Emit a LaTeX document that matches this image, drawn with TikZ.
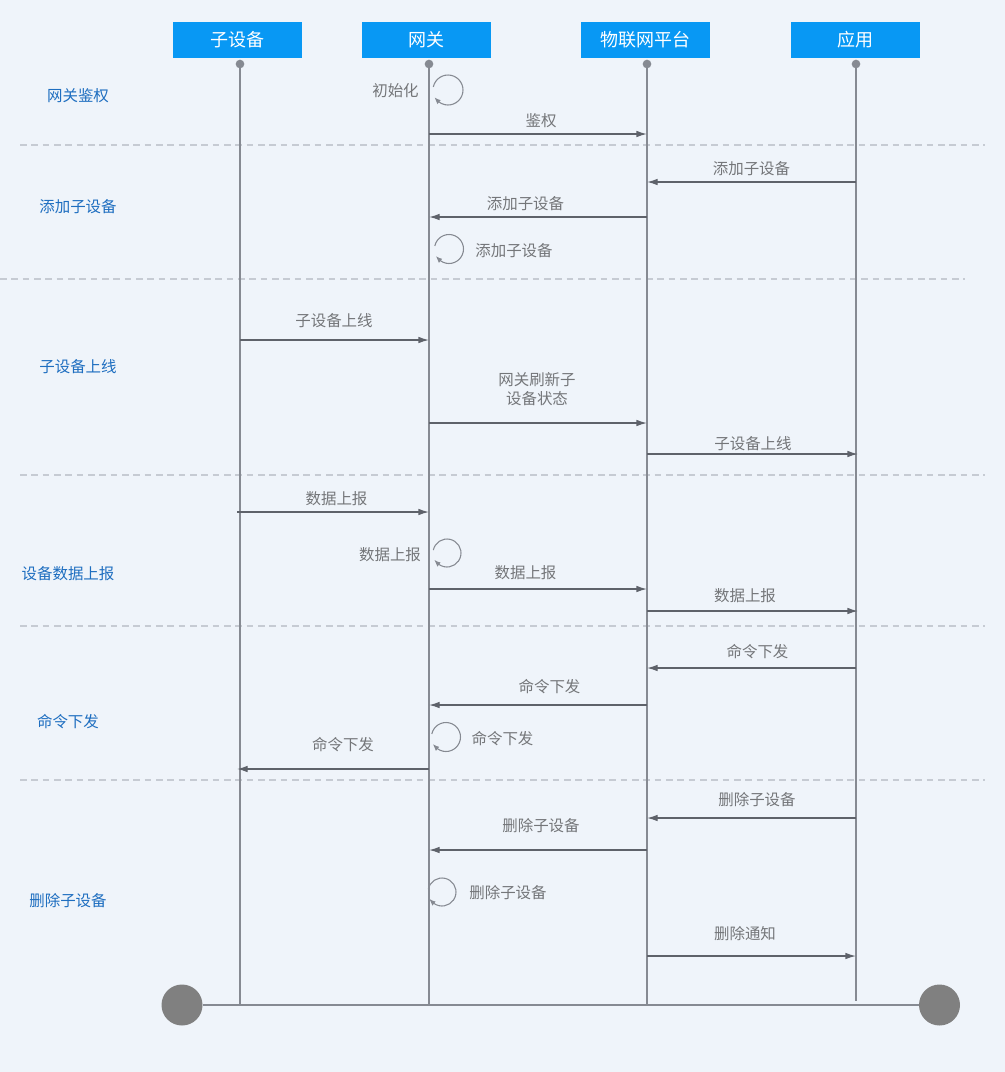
\documentclass[tikz,border=0pt]{standalone}
\usepackage{fontspec}
\setmainfont{Noto Sans CJK SC}
\usetikzlibrary{arrows.meta,calc,bending}
\definecolor{bgc}{HTML}{EFF4FA}
\definecolor{headc}{HTML}{0898F4}
\definecolor{lifec}{HTML}{868A92}
\definecolor{msgc}{HTML}{5E626A}
\definecolor{txtc}{HTML}{747679}
\definecolor{secc}{HTML}{1E6EC0}
\definecolor{dashc}{HTML}{C6CBD3}
\definecolor{endcc}{HTML}{808080}
\newcommand\sqmsg[7]{%
  \coordinate (#1a) at (#2,#4);
  \coordinate (#1b) at (#3,#4);
  \draw[msgarrow] (#1a) -- (#1b);
  \node[msglabel] (#1l) at (#5,#6) {#7};}
\newcommand\sqloop[7]{%
  \coordinate (#1c) at (#2,#3);
  \draw[loopline] ($(#1c)+(-168:#4)$) arc[start angle=-168,end angle=152,radius=#4];
  \node[msglabel] (#1l) at (#5,#6) {#7};}
\begin{document}
\begin{tikzpicture}[x=0.75pt,y=-0.75pt,
  head/.style={fill=headc,text=white,minimum width=96.75pt,minimum height=27pt,inner sep=0pt,font=\fontsize{13.5}{15}\selectfont},
  lifedot/.style={circle,fill=lifec,minimum size=6.5pt,inner sep=0pt},
  life/.style={draw=lifec,line width=1.5pt},
  msgarrow/.style={draw=msgc,line width=1pt,-{Latex[length=8pt,width=5pt]}},
  msglabel/.style={text=txtc,inner sep=0pt,font=\fontsize{11.6}{14}\selectfont,align=center},
  seclabel/.style={text=secc,inner sep=0pt,font=\fontsize{11.6}{14}\selectfont},
  loopline/.style={draw=lifec,line width=0.8pt,-{Latex[length=5pt,width=4pt,bend]}},
  sep/.style={draw=dashc,line width=0.8pt,dash pattern=on 5pt off 3.5pt},
  endcirc/.style={circle,fill=endcc,minimum size=30.75pt,inner sep=0pt}]
\useasboundingbox (0,0) rectangle (1005,1072);
\fill[bgc] (0,0) rectangle (1005,1072);

% separators
\coordinate (s1a) at (20,145);  \coordinate (s1b) at (985,145);
\coordinate (s2a) at (0,279);   \coordinate (s2b) at (965,279);
\coordinate (s3a) at (20,475);  \coordinate (s3b) at (985,475);
\coordinate (s4a) at (20,626);  \coordinate (s4b) at (985,626);
\coordinate (s5a) at (20,780);  \coordinate (s5b) at (985,780);
\foreach \s in {s1,s2,s3,s4,s5} \draw[sep] (\s a) -- (\s b);

% section labels
\node[seclabel] (g1) at (78,96) {网关鉴权};
\node[seclabel] (g2) at (78,207) {添加子设备};
\node[seclabel] (g3) at (78,367) {子设备上线};
\node[seclabel] (g4) at (68,574) {设备数据上报};
\node[seclabel] (g5) at (68,722) {命令下发};
\node[seclabel] (g6) at (68,901) {删除子设备};

% headers
\node[head] (h1) at (237.5,40) {子设备};
\node[head] (h2) at (426.5,40) {网关};
\node[head] (h3) at (645.5,40) {物联网平台};
\node[head] (h4) at (855,40) {应用};

% lifelines
\node[lifedot] (d1) at (240,64) {};
\node[lifedot] (d2) at (429,64) {};
\node[lifedot] (d3) at (647,64) {};
\node[lifedot] (d4) at (856,64) {};
\coordinate (e1) at (240,1005);
\coordinate (e2) at (429,1005);
\coordinate (e3) at (647,1005);
\coordinate (e4) at (856,1001);
\draw[life] (d1.center) -- (e1);
\draw[life] (d2.center) -- (e2);
\draw[life] (d3.center) -- (e3);
\draw[life] (d4.center) -- (e4);

% bottom bar
\node[endcirc] (c1) at (182,1005) {};
\node[endcirc] (c2) at (939.5,1005) {};
\draw[life] (c1) -- (c2);

% messages
\sqloop{l1}{448}{90}{15}{395.5}{91}{初始化}
\sqmsg{m1}{429}{647}{134}{541}{121}{鉴权}
\sqmsg{m2}{856}{647}{182}{751.5}{169}{添加子设备}
\sqmsg{m3}{647}{429}{217}{525.5}{204}{添加子设备}
\sqloop{l2}{449}{249}{14.5}{514}{251}{添加子设备}
\sqmsg{m4}{240}{429}{340}{334}{321}{子设备上线}
\sqmsg{m5}{429}{647}{423}{537}{389}{网关刷新子\\设备状态}
\sqmsg{m6}{647}{858}{454}{753}{444}{子设备上线}
\sqmsg{m7}{237}{429}{512}{336.5}{499}{数据上报}
\sqloop{l3}{447}{553}{14}{390}{555}{数据上报}
\sqmsg{m8}{429}{647}{589}{525.5}{573}{数据上报}
\sqmsg{m9}{647}{858}{611}{745}{596}{数据上报}
\sqmsg{m10}{856}{647}{668}{757.5}{652}{命令下发}
\sqmsg{m11}{647}{429}{705}{549.5}{687}{命令下发}
\sqloop{l4}{446}{737}{14.5}{502.5}{739}{命令下发}
\sqmsg{m12}{429}{237}{769}{343}{745}{命令下发}
\sqmsg{m13}{856}{647}{818}{757}{800}{删除子设备}
\sqmsg{m14}{647}{429}{850}{541}{826}{删除子设备}
\sqloop{l5}{442}{892}{14}{508}{893}{删除子设备}
\sqmsg{m15}{647}{856}{956}{745}{934}{删除通知}
\end{tikzpicture}
\end{document}
